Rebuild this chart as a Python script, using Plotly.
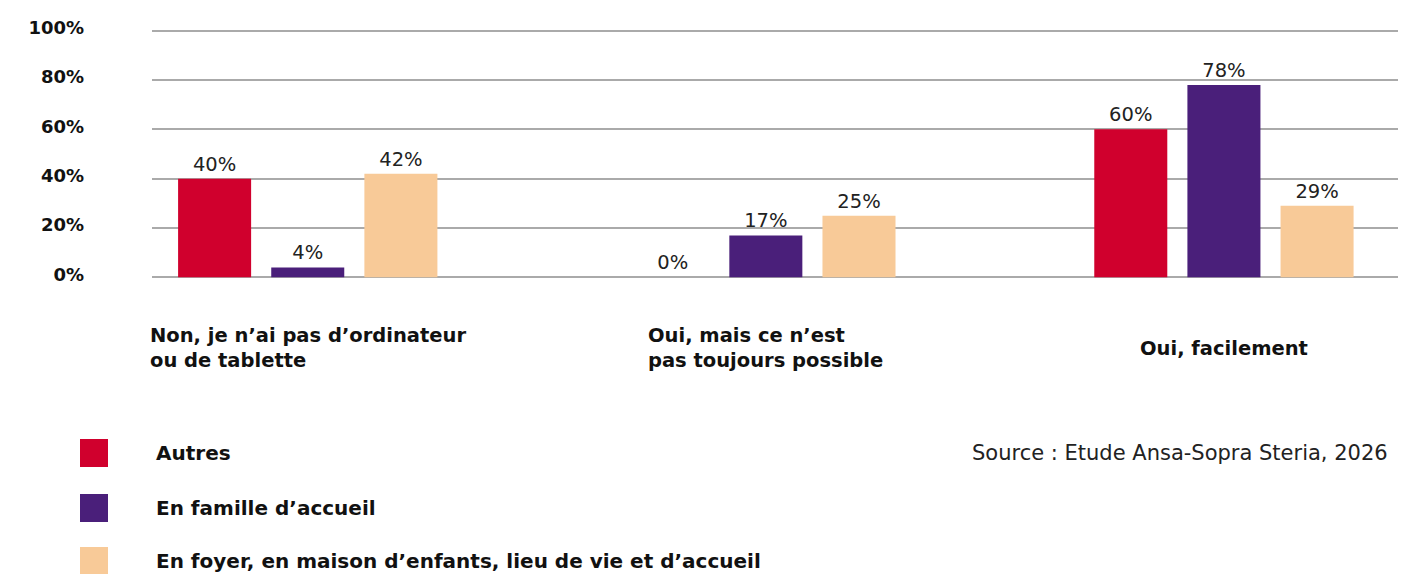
import plotly.graph_objects as go

categories = ["Non, je n'ai pas d'ordinateur ou de tablette",
              "Oui, mais ce n'est pas toujours possible",
              "Oui, facilement"]
category_labels = ["Non, je n’ai pas d’ordinateur<br>ou de tablette",
                   "Oui, mais ce n’est<br>pas toujours possible",
                   "Oui, facilement"]
series_names = ["Autres", "En famille d’accueil",
                "En foyer, en maison d’enfants, lieu de vie et d’accueil"]
autres = [40, 0, 60]
famille = [4, 17, 78]
foyer = [42, 25, 29]
series_values = [autres, famille, foyer]
colors = ["#D0002D", "#4A1F7A", "#F8CA98"]
y_ticks = [0, 20, 40, 60, 80, 100]
y_tick_labels = ["0%", "20%", "40%", "60%", "80%", "100%"]
source_text = "Source : Etude Ansa-Sopra Steria, 2026"

W, H = 1410, 574
ML, MR, MT, MB = 152, 12, 27, 293
PH = H - MT - MB
PW = W - ML - MR

def py(ypix):
    return (H - MB - ypix) / PH

def px(xpix):
    return (xpix - ML) / PW

FONT = "DejaVu Sans"

fig = go.Figure()
for name, vals, col in zip(series_names, series_values, colors):
    fig.add_trace(go.Bar(
        x=categories, y=vals, name=name, marker=dict(color=col, line=dict(width=0)),
        text=[f"{v}%" for v in vals], textposition="outside", cliponaxis=False,
        textfont=dict(family=FONT, size=19.5, color="#222222"),
        showlegend=False,
    ))

annotations = []
for cat, lab in zip(categories, category_labels):
    annotations.append(dict(
        x=cat, xref="x", y=py(348), yref="paper", text=lab, showarrow=False,
        xanchor="center", yanchor="middle", align="left",
        font=dict(family=FONT, size=19.5, color="#111111", weight="bold"),
    ))

legend_y = [453, 508, 561]
shapes = []
for name, col, yy in zip(series_names, colors, legend_y):
    shapes.append(dict(type="rect", xref="paper", yref="paper",
                       x0=px(80), x1=px(108), y0=py(yy + 14), y1=py(yy - 14),
                       fillcolor=col, line=dict(width=0)))
    annotations.append(dict(
        x=px(154), xref="paper", y=py(yy), yref="paper", text=name, showarrow=False,
        xanchor="left", yanchor="middle",
        font=dict(family=FONT, size=20, color="#111111", weight="bold"),
    ))

annotations.append(dict(
    x=px(1390), xref="paper", y=py(453), yref="paper", text=source_text, showarrow=False,
    xanchor="right", yanchor="middle",
    font=dict(family=FONT, size=21, color="#222222"),
))

fig.update_layout(
    width=W, height=H,
    margin=dict(l=ML, r=MR, t=MT, b=MB),
    paper_bgcolor="white", plot_bgcolor="white",
    barmode="group", bargap=0.39, bargroupgap=0.216,
    xaxis=dict(range=[-0.34, 2.38], showticklabels=False, showgrid=False,
               zeroline=False, showline=False, fixedrange=True),
    yaxis=dict(range=[-1.5, 101.5], tickvals=y_ticks, ticktext=y_tick_labels,
               showgrid=True, gridcolor="#AAAAAA", gridwidth=2, zeroline=False,
               showline=False, ticks="", ticklabelstandoff=67, ticklabelshift=-3,
               tickfont=dict(family=FONT, size=18, color="#111111", weight="bold")),
    annotations=annotations, shapes=shapes,
)

fig.write_html("out.html", config={"displayModeBar": False},
               post_script="document.body.style.margin='0';")
